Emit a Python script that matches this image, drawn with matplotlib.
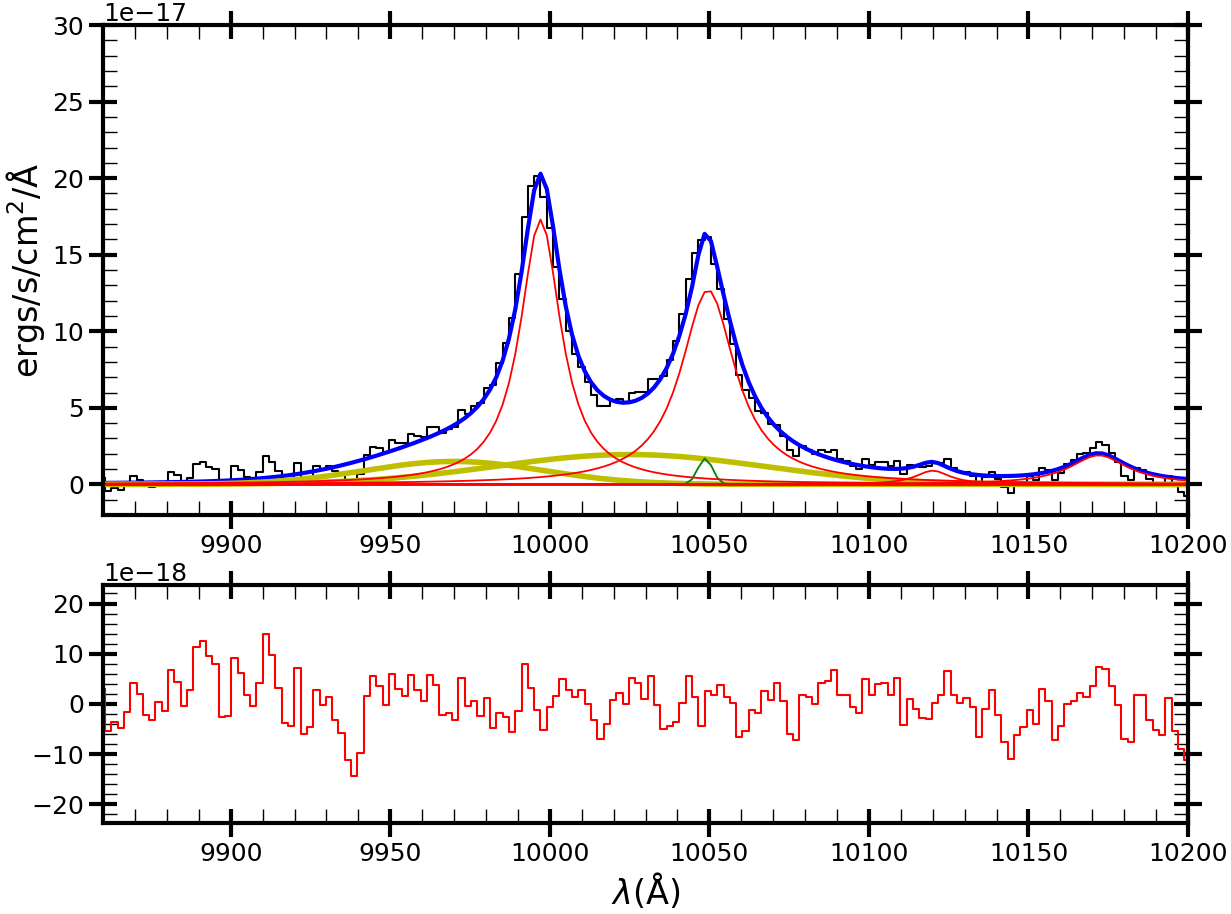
import numpy as np
import matplotlib
matplotlib.use("Agg")
import matplotlib.pyplot as plt
from matplotlib.ticker import MultipleLocator

plt.rcParams['xtick.labelsize'] = 18
plt.rcParams['ytick.labelsize'] = 18

# spectrum pixels: first wavelength and pixel size (Angstrom)
wave0 = 9860.6
dwave = 1.978

# residuals data - model, in 1e-18 ergs/s/cm^2/A (one value per pixel)
resid = [3.0,
         -5.3, -3.5, -4.7, -1.7, 4.2, 1.9, -2.1, -3.2, 0.3, -1.4,
         6.7, 4.4, -0.5, 2.7, 11.3, 12.5, 9.5, 7.9, -2.5, -2.3,
         9.1, 6.2, 1.7, -0.5, 4.1, 13.9, 9.7, 3.1, -3.8, -4.3,
         7.1, -6.0, -4.5, 2.7, -0.3, 1.3, -3.1, -5.7, -11.1, -14.3,
         -9.7, 1.5, 5.5, 3.5, -0.3, 6.0, 2.9, 1.5, 5.8, 2.7,
         0.5, 5.8, 3.8, -2.1, -1.8, -3.1, 5.1, -0.5, 0.5, -2.3,
         1.1, -4.8, -1.8, -2.5, -5.5, -1.5, 8.0, 3.1, -1.2, -5.1,
         -0.7, 1.5, 5.0, 2.7, 1.3, 2.7, 0.0, -3.1, -7.0, -4.0,
         0.7, 2.2, 0.0, 5.2, 4.1, 1.0, 5.5, -0.2, -5.0, -4.3,
         -3.5, 0.2, 5.5, 1.3, -4.3, 2.5, 1.7, 3.7, 1.3, 0.2,
         -6.5, -5.3, -1.2, -1.8, 2.5, 0.7, 4.2, 0.5, -6.0, -7.2,
         1.8, 1.3, 0.0, 4.2, 4.5, 6.7, 1.8, 1.8, -0.7, -1.8,
         5.0, 1.8, 4.0, 4.2, 1.8, 5.1, -4.1, 0.9, -1.0, -2.7,
         -3.0, 0.2, 1.7, 6.5, 1.8, 0.2, 1.1, -0.7, -6.5, -1.1,
         2.7, -2.1, -7.5, -11.0, -6.1, -4.5, -1.3, -4.0, 2.9, 0.5,
         -7.2, -4.3, 0.0, 0.5, 2.2, 1.3, 3.5, 7.3, 7.0, 3.5,
         -0.2, -7.0, -7.5, 1.7, 1.7, -3.2, -5.1, -6.1, 1.1, -5.3,
         -8.9, -11.1]

# fit components (amplitudes in 1e-17)
# lorentzian lines (red)
lor_cen = [9997.1, 10049.6, 10120.0, 10172.0]
lor_amp = [17.3, 12.7, 0.9, 1.9]
lor_gam = [7.8, 10.4, 6.5, 11.0]
# broad gaussians (yellow)
bro_cen = [9970.0, 10025.0]
bro_amp = [1.5, 1.95]
bro_sig = [28.0, 42.0]
# narrow gaussian (green)
nar_cen = [10048.7]
nar_amp = [1.7]
nar_sig = [2.3]
# continuum
cont_level = 0.0


def lorentz(x, a, c, g):
    return a / (1 + ((x - c) / g) ** 2)


def gauss(x, a, c, s):
    return a * np.exp(-0.5 * ((x - c) / s) ** 2)


wave = wave0 + dwave * np.arange(len(resid))
unit = 1e-17

red = [lorentz(wave, a, c, g) * unit for a, c, g in zip(lor_amp, lor_cen, lor_gam)]
yel = [gauss(wave, a, c, s) * unit for a, c, s in zip(bro_amp, bro_cen, bro_sig)]
grn = [gauss(wave, a, c, s) * unit for a, c, s in zip(nar_amp, nar_cen, nar_sig)]
cont = np.full_like(wave, cont_level * unit)

total = cont + sum(red) + sum(yel) + sum(grn)
res = np.array(resid) * 1e-18
flux = total + res

fig = plt.figure(figsize=(12.31, 9.14), dpi=100)
ax = fig.add_axes([0.0837, 0.4365, 0.8814, 0.5361])
ax2 = fig.add_axes([0.0837, 0.0996, 0.8814, 0.2604])

ax.step(wave, flux, where='pre', color='k', lw=1.5)
ax.plot(wave, total, color='b', lw=3)
for y in yel:
    ax.plot(wave, y, color='y', lw=4)
for y in grn:
    ax.plot(wave, y, color='g', lw=1.3)
for y in red:
    ax.plot(wave, y, color='r', lw=1.3)
ax.plot(wave, cont, color='r', lw=2)

ax2.step(wave, res, where='pre', color='r', lw=1.5)

ax.set_xlim(9860, 10200)
ax.set_ylim(-2e-17, 30e-17)
ax2.set_xlim(9860, 10200)
ax2.set_ylim(-23.7e-18, 23.7e-18)

ax.ticklabel_format(axis='y', style='sci', scilimits=(-17, -17))
ax2.ticklabel_format(axis='y', style='sci', scilimits=(-18, -18))

ax.yaxis.set_major_locator(MultipleLocator(5e-17))
ax.yaxis.set_minor_locator(MultipleLocator(1e-17))
ax2.yaxis.set_major_locator(MultipleLocator(10e-18))
ax2.yaxis.set_minor_locator(MultipleLocator(2e-18))
for a in (ax, ax2):
    a.xaxis.set_major_locator(MultipleLocator(50))
    a.xaxis.set_minor_locator(MultipleLocator(10))
    a.tick_params(which='major', direction='inout', length=20, width=3,
                  top=True, right=True)
    a.tick_params(which='minor', direction='in', length=10, width=1,
                  top=True, right=True)
    for s in a.spines.values():
        s.set_linewidth(3)

ax.set_ylabel('ergs/s/cm$^2$/Å', fontsize=24)
ax2.set_xlabel(r'$\lambda$(Å)', fontsize=24)

fig.savefig('out.png', dpi=100)
